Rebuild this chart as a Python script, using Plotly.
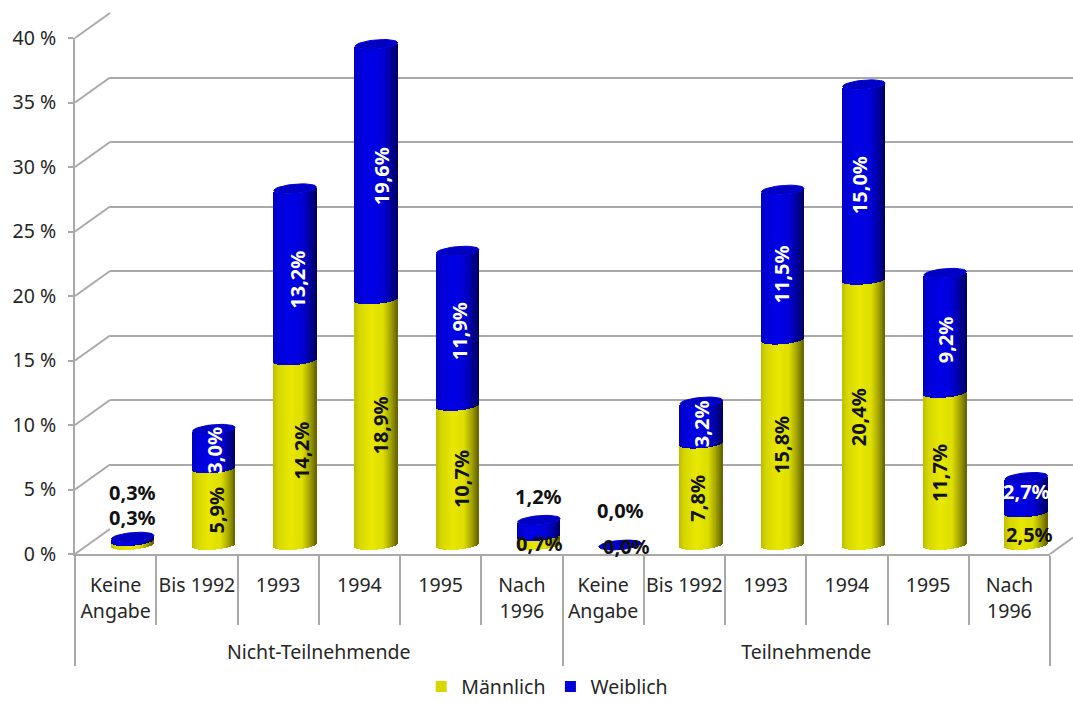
import math
import plotly.graph_objects as go

# ---------- data ----------
groups = ["Nicht-Teilnehmende"] * 6 + ["Teilnehmende"] * 6
periods = ["Keine<br>Angabe", "Bis 1992", "1993", "1994", "1995", "Nach<br>1996"] * 2
maennlich = [0.3, 5.9, 14.2, 18.9, 10.7, 0.7, 0.0, 7.8, 15.8, 20.4, 11.7, 2.5]
weiblich = [0.3, 3.0, 13.2, 19.6, 11.9, 1.2, 0.0, 3.2, 11.5, 15.0, 9.2, 2.7]
y_ticks = [0, 5, 10, 15, 20, 25, 30, 35, 40]
y_labels = ["0 %", "5 %", "10 %", "15 %", "20 %", "25 %", "30 %", "35 %", "40 %"]
inner_dividers = [0.5, 1.5, 2.5, 3.5, 4.5, 6.5, 7.5, 8.5, 9.5, 10.5]

# ---------- label styling ----------
m_angle = [0, -90, -90, -90, -90, 0, 0, -90, -90, -90, -90, 0]
w_angle = [0, -90, -90, -90, -90, 0, 0, -90, -90, -90, -90, 0]
m_dx = [0, 3, 7, 4, 4, 1, 6, -4, -1, -5, -5, 3]
m_dy = [26, -3, 2, -3, -4, -3, -1, -4, -3, -5, -4, -6]
w_dx = [0, 1, 2, 6, 2, 0, 0, 0, -1, -5, 0, 0]
w_dy = [47, -1, -5, -4, -3, 32, 35, -1, -10, -3, -7, 3]
w_color = ["#111", "white", "white", "white", "white", "#111", "#111",
           "white", "white", "white", "white", "white"]

# ---------- geometry (px) ----------
W, H = 1073, 702
LEFT, RIGHT, BOTTOM, TOP = 75, 1050, 554, 38
CYL_DX = 17
CYL_BASE, CYL_PX = 545, 13.0
BACK_DX, BACK_DY = 35, 25
GRID = "#a9a9a9"
FONT = "Noto Sans"
TXT = "#262626"
PX = (BOTTOM - TOP) / 40
CAT = (RIGHT - LEFT) / 12
BAR_W = 42.5 / CAT
RY, TILT = 4.6, 1.8
N = 43
YMIN = -1.5


def dom_x(a, b):
    return [a / W, min(b / W, 1)]


def dom_y(bottom, top):
    return [(H - bottom) / H, (H - top) / H]


def shade(stops, t):
    for (t0, c0), (t1, c1) in zip(stops, stops[1:]):
        if t <= t1:
            f = (t - t0) / (t1 - t0)
            return "rgb(%d,%d,%d)" % tuple(a + (b - a) * f for a, b in zip(c0, c1))
    return "rgb(%d,%d,%d)" % stops[-1][1]


YEL = [(-1, (190, 190, 0)), (-0.75, (215, 215, 0)), (-0.2, (232, 232, 0)),
       (0.35, (222, 222, 0)), (0.7, (165, 165, 0)), (1, (100, 100, 0))]
BLU = [(-1, (0, 0, 190)), (-0.75, (0, 0, 215)), (-0.2, (0, 0, 232)),
       (0.35, (0, 0, 215)), (0.7, (0, 0, 160)), (1, (0, 0, 100))]


def strips(bases, heights, stops):
    xs, ys, bs, cs = [], [], [], []
    step = BAR_W / N
    for i, (b, h) in enumerate(zip(bases, heights)):
        for k in range(N):
            t = -1 + (2 * k + 1) / N
            off = (-RY * math.sqrt(1 - t * t) + TILT * t) / CYL_PX
            xs.append(i + t * BAR_W / 2)
            ys.append(h)
            bs.append(b + off)
            cs.append(shade(stops, t))
    return go.Bar(x=xs, y=ys, base=bs, width=step * 1.3, marker=dict(color=cs, line=dict(width=0)),
                  xaxis="x3", yaxis="y3", showlegend=False, hoverinfo="skip", cliponaxis=False)


totals = [m + w for m, w in zip(maennlich, weiblich)]
fig = go.Figure()

# a blank extra line under the two-line labels pushes the group level down
spaced = [p + "<br>&nbsp;" if "<br>" in p else p for p in periods]

# back wall grid
fig.add_trace(go.Scatter(x=[0, 1], y=[0, 40], mode="markers", marker=dict(opacity=0),
                         xaxis="x", yaxis="y", showlegend=False, hoverinfo="skip"))
# front axes with the two-level categories
fig.add_trace(go.Scatter(x=[groups, spaced], y=[0] * 12, mode="markers", marker=dict(opacity=0),
                         xaxis="x2", yaxis="y2", showlegend=False, hoverinfo="skip"))
# inner divider ticks of the category axis
fig.add_trace(go.Scatter(x=inner_dividers, y=[0] * len(inner_dividers), mode="markers", marker=dict(opacity=0),
                         xaxis="x4", yaxis="y2", showlegend=False, hoverinfo="skip"))
# cylinders
fig.add_trace(strips([0] * 12, maennlich, YEL))
fig.add_trace(strips(maennlich, weiblich, BLU))
# caps
cx, cy = [], []
for i, v in enumerate(totals):
    for a in range(0, 361, 10):
        th = math.radians(a)
        cx.append(i + BAR_W / 2 * math.cos(th))
        cy.append(v + (RY * math.sin(th) + TILT * math.cos(th)) / CYL_PX)
    cx.append(None)
    cy.append(None)
fig.add_trace(go.Scatter(x=cx, y=cy, mode="lines", fill="toself", fillcolor="#0000c4",
                         line=dict(color="#0000d8", width=1), xaxis="x3", yaxis="y3",
                         showlegend=False, hoverinfo="skip", cliponaxis=False))
# legend entries
for name, col in [("Männlich", "#d8d800"), ("Weiblich", "#0000d8")]:
    fig.add_trace(go.Scatter(x=[None], y=[None], mode="markers", name=name,
                             marker=dict(symbol="square", size=11, color=col),
                             xaxis="x3", yaxis="y3"))


def fmt(v):
    return ("%.1f%%" % v).replace(".", ",")


anns = []
for i in range(12):
    anns.append(dict(x=i, y=maennlich[i] / 2, text=fmt(maennlich[i]), xref="x3", yref="y3",
                     showarrow=False, textangle=m_angle[i], xshift=m_dx[i], yshift=m_dy[i],
                     font=dict(family=FONT, size=20, color="#111", weight="bold")))
    anns.append(dict(x=i, y=maennlich[i] + weiblich[i] / 2, text=fmt(weiblich[i]), xref="x3", yref="y3",
                     showarrow=False, textangle=w_angle[i], xshift=w_dx[i], yshift=w_dy[i],
                     font=dict(family=FONT, size=20, color=w_color[i], weight="bold")))

# diagonals of the 3D box
shapes = []
for v in y_ticks:
    y0 = BOTTOM - v * PX
    shapes.append(dict(type="line", xref="paper", yref="paper", layer="below",
                       x0=LEFT / W, x1=(LEFT + BACK_DX) / W,
                       y0=(H - y0) / H, y1=(H - y0 + BACK_DY) / H,
                       line=dict(color=GRID, width=2)))
shapes.append(dict(type="line", xref="paper", yref="paper", layer="below",
                   x0=RIGHT / W, x1=1, y0=(H - BOTTOM) / H, y1=(H - BOTTOM + BACK_DY * 23 / 35) / H,
                   line=dict(color=GRID, width=2)))

hidden = dict(showticklabels=False, showgrid=False, zeroline=False, showline=False, ticks="")
fig.update_layout(
    width=W, height=H, margin=dict(l=0, r=0, t=0, b=0, autoexpand=False), autosize=False,
    paper_bgcolor="white", plot_bgcolor="rgba(0,0,0,0)",
    barmode="overlay", bargap=0,
    font=dict(family=FONT, size=19.5, color=TXT),
    annotations=anns, shapes=shapes,
    xaxis=dict(domain=dom_x(LEFT + BACK_DX, W), range=[0, 1], **hidden),
    yaxis=dict(domain=dom_y(BOTTOM - BACK_DY, TOP - BACK_DY), range=[0, 40], tickvals=y_ticks,
               showticklabels=False, showgrid=True, gridcolor=GRID, gridwidth=2, zeroline=False, ticks=""),
    xaxis2=dict(domain=dom_x(LEFT, RIGHT), type="multicategory", anchor="y2", range=[-0.5, 11.5], tickangle=0,
                showline=True, linecolor=GRID, linewidth=2,
                ticks="outside", ticklen=1, tickcolor="rgba(0,0,0,0)", tickwidth=2,
                showdividers=True, dividercolor=GRID, dividerwidth=2, ticklabelstandoff=13,
                showgrid=False, zeroline=False, tickfont=dict(family=FONT, size=19.5, color=TXT)),
    xaxis4=dict(domain=dom_x(LEFT, RIGHT), anchor="y2", range=[-0.5, 11.5], tickvals=inner_dividers,
                showticklabels=False, ticks="outside", ticklen=70, tickcolor=GRID, tickwidth=2,
                showgrid=False, zeroline=False, showline=False),
    yaxis2=dict(domain=dom_y(BOTTOM, TOP), anchor="x2", range=[0, 40], tickvals=y_ticks, ticktext=y_labels,
                showline=True, linecolor=GRID, linewidth=2, ticks="outside", ticklen=5, tickcolor=GRID,
                ticklabelstandoff=8,
                tickwidth=2, showgrid=False, zeroline=False, tickfont=dict(family=FONT, size=19.5, color=TXT)),
    xaxis3=dict(domain=dom_x(LEFT + CYL_DX, RIGHT + CYL_DX), range=[-0.5, 11.5], anchor="y3", **hidden),
    yaxis3=dict(domain=dom_y(CYL_BASE - YMIN * CYL_PX, CYL_BASE - 40 * CYL_PX), range=[YMIN, 40], anchor="x3", **hidden),
    legend=dict(orientation="h", x=0.510, xanchor="center", y=-0.006, yanchor="bottom",
                font=dict(family=FONT, size=19.5, color=TXT), itemwidth=30, bgcolor="rgba(0,0,0,0)"),
)
fig.write_html("out.html", post_script="document.body.style.margin='0';",
               config={"displayModeBar": False})
